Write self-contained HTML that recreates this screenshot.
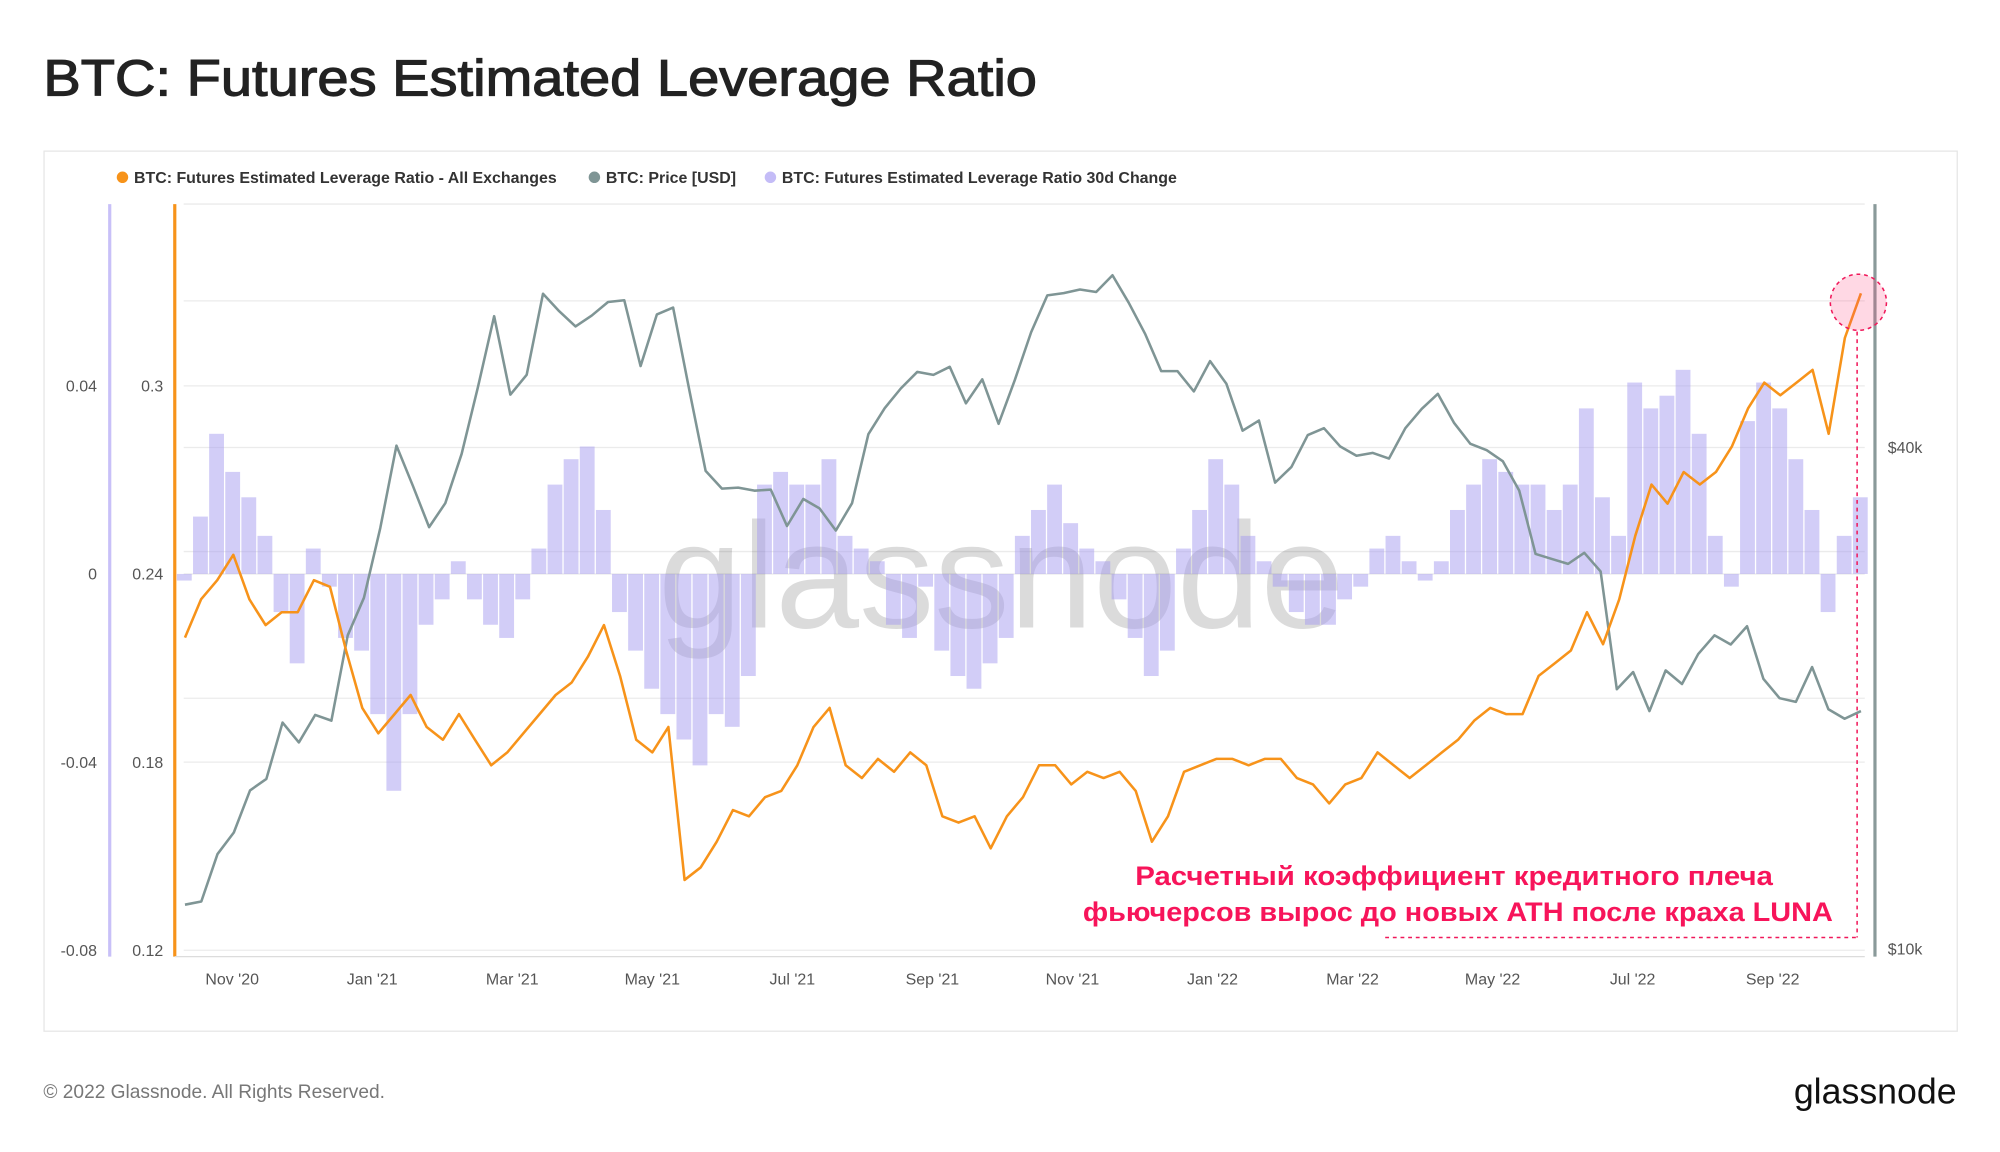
<!DOCTYPE html>
<html><head><meta charset="utf-8">
<style>
html,body{margin:0;padding:0;background:#fff;}
svg{display:block;font-family:"Liberation Sans","DejaVu Sans",sans-serif;}
</style></head>
<body>
<svg id="chart" width="2000" height="1152" viewBox="0 0 1568 903.2" xmlns="http://www.w3.org/2000/svg">
<text x="34" y="75" font-size="40" fill="#222" stroke="#222" stroke-width="0.9" textLength="779" lengthAdjust="spacingAndGlyphs">BTC: Futures Estimated Leverage Ratio</text>
<rect x="34.5" y="118.5" width="1500" height="690" fill="#fff" stroke="#e6e6e6"/>
<g font-size="12.5" fill="#333" font-weight="bold">
 <g><circle cx="96" cy="139" r="4.5" fill="#f7931a"/><text x="105" y="143.5">BTC: Futures Estimated Leverage Ratio - All Exchanges</text></g>
 <g><circle cx="466" cy="139" r="4.5" fill="#7f9595"/><text x="475" y="143.5">BTC: Price [USD]</text></g>
 <g><circle cx="604" cy="139" r="4.5" fill="#c4bcf7"/><text x="613" y="143.5">BTC: Futures Estimated Leverage Ratio 30d Change</text></g>
</g>
<g id="grid"></g>
<text x="785" y="492" font-size="118" fill="#000" fill-opacity="0.14" text-anchor="middle" font-weight="500">glassnode</text>
<g id="bars"></g>
<g id="lines"></g>
<g id="axes"></g>
<g>
 <ellipse cx="1457" cy="237" rx="22" ry="22" fill="#ff3c78" fill-opacity="0.2" stroke="#f0185a" stroke-dasharray="3,3" stroke-width="1.2"/>
 <line x1="1456" y1="260" x2="1456" y2="735" stroke="#f0185a" stroke-dasharray="3,3" stroke-width="1.2"/>
 <line x1="1086" y1="735" x2="1456" y2="735" stroke="#f0185a" stroke-dasharray="3,3" stroke-width="1.2"/>
 <text x="1140" y="694" font-size="21" font-weight="bold" fill="#f7145a" text-anchor="middle" textLength="500" lengthAdjust="spacingAndGlyphs">Расчетный коэффициент кредитного плеча</text>
 <text x="1143" y="722" font-size="21" font-weight="bold" fill="#f7145a" text-anchor="middle" textLength="588" lengthAdjust="spacingAndGlyphs">фьючерсов вырос до новых ATH после краха LUNA</text>
</g>
<text x="34" y="861" font-size="15" fill="#777">© 2022 Glassnode. All Rights Reserved.</text>
<text x="1534" y="865" font-size="28" fill="#111" text-anchor="end">glassnode</text>
</svg>
<script>
const NS='http://www.w3.org/2000/svg';
const leverage=[0.2197,0.2319,0.238,0.2461,0.2319,0.2237,0.2278,0.2278,0.238,0.2359,0.2156,0.1973,0.1892,0.1953,0.2014,0.1912,0.1871,0.1953,0.1871,0.179,0.1831,0.1892,0.1953,0.2014,0.2054,0.2136,0.2237,0.2075,0.1871,0.1831,0.1912,0.1424,0.1464,0.1546,0.1647,0.1627,0.1688,0.1708,0.179,0.1912,0.1973,0.179,0.1749,0.181,0.1769,0.1831,0.179,0.1627,0.1607,0.1627,0.1525,0.1627,0.1688,0.179,0.179,0.1729,0.1769,0.1749,0.1769,0.1708,0.1546,0.1627,0.1769,0.179,0.181,0.181,0.179,0.181,0.181,0.1749,0.1729,0.1668,0.1729,0.1749,0.1831,0.179,0.1749,0.179,0.1831,0.1871,0.1932,0.1973,0.1953,0.1953,0.2075,0.2115,0.2156,0.2278,0.2176,0.2319,0.2522,0.2685,0.2624,0.2725,0.2685,0.2725,0.2807,0.2929,0.301,0.297,0.301,0.3051,0.2847,0.3153,0.3295];
const priceK=[11.3,11.4,13.0,13.8,15.5,16.0,18.7,17.7,19.1,18.8,23.8,26.4,32.0,40.2,36.0,32.1,34.3,39.3,47.2,57.5,46.3,48.9,61.2,58.3,55.9,57.6,59.8,60.1,50.1,57.8,58.9,46.8,37.5,35.7,35.8,35.5,35.6,32.2,34.7,33.8,31.8,34.3,41.5,44.6,47.1,49.3,48.9,50.0,45.2,48.3,42.7,48.2,55.0,60.9,61.3,61.9,61.5,64.4,59.7,54.8,49.4,49.4,46.7,50.8,47.7,41.9,43.1,36.3,37.9,41.4,42.2,40.1,39.1,39.4,38.8,42.2,44.5,46.4,42.8,40.4,39.7,38.5,35.5,29.8,29.4,29.0,29.9,28.4,20.5,21.5,19.3,21.6,20.8,22.6,23.8,23.2,24.4,21.1,20.0,19.8,21.8,19.4,18.9,19.3];
const change30d=[-0.0014,0.0122,0.0298,0.0217,0.0163,0.0081,-0.0081,-0.019,0.0054,-0.0027,-0.0136,-0.0163,-0.0298,-0.0461,-0.0298,-0.0108,-0.0054,0.0027,-0.0054,-0.0108,-0.0136,-0.0054,0.0054,0.019,0.0244,0.0271,0.0136,-0.0081,-0.0163,-0.0244,-0.0298,-0.0352,-0.0407,-0.0298,-0.0325,-0.0217,0.019,0.0217,0.019,0.019,0.0244,0.0081,0.0054,0.0027,-0.0108,-0.0136,-0.0027,-0.0163,-0.0217,-0.0244,-0.019,-0.0136,0.0081,0.0136,0.019,0.0108,0.0054,0.0027,-0.0054,-0.0136,-0.0217,-0.0163,0.0054,0.0136,0.0244,0.019,0.0081,0.0027,-0.0027,-0.0081,-0.0108,-0.0108,-0.0054,-0.0027,0.0054,0.0081,0.0027,-0.0014,0.0027,0.0136,0.019,0.0244,0.0217,0.019,0.019,0.0136,0.019,0.0352,0.0163,0.0081,0.0407,0.0352,0.0379,0.0434,0.0298,0.0081,-0.0027,0.0325,0.0407,0.0352,0.0244,0.0136,-0.0081,0.0081,0.0163];
const xLabels=["Nov '20","Jan '21","Mar '21","May '21","Jul '21","Sep '21","Nov '21","Jan '22","Mar '22","May '22","Jul '22","Sep '22"];
const leverageTicks=[0.3,0.24,0.18,0.12];
const changeTicks=[0.04,0,-0.04,-0.08];
const priceTicks=[40,10];
const priceTickLabels=["$40k","$10k"];
const priceGrid=[60,40,30,20];

const X0=145,X1=1459;
const xAt=(i,n)=>X0+(X1-X0)*i/(n-1);
const yLev=v=>450-(v-0.24)/0.06*147.5;
const yChg=v=>450-v/0.04*147.5;
const yPrice=k=>744-Math.log10(k/10)*653;

function mk(tag,attrs,parent){const e=document.createElementNS(NS,tag);for(const k in attrs)e.setAttribute(k,attrs[k]);parent.appendChild(e);return e;}
const grid=document.getElementById('grid'),bars=document.getElementById('bars'),lines=document.getElementById('lines'),axes=document.getElementById('axes');

const gy=[160].concat(leverageTicks.map(yLev),priceGrid.map(yPrice));
gy.forEach(y=>{const l=mk('line',{x1:144,x2:1462,y1:y,y2:y,stroke:'#ebebeb','stroke-width':1},grid);

});

const nb=change30d.length,bw=(X1-X0)/(nb-1);
change30d.forEach((v,i)=>{const x=xAt(i,nb)-bw/2;const y0=yChg(0),y=yChg(v);
const r=mk('rect',{x:x,y:Math.min(y0,y),width:bw*0.92,height:Math.abs(y-y0),fill:'#a69bf0','fill-opacity':0.5},bars);

});

function path(arr,fy,color,w,name){const n=arr.length;let d='';arr.forEach((v,i)=>{d+=(i?'L':'M')+xAt(i,n).toFixed(1)+','+fy(v).toFixed(1);});
const p=mk('path',{d:d,fill:'none',stroke:color,'stroke-width':w,'stroke-linejoin':'round'},lines);

}
path(priceK,yPrice,'#7f9595',2,'price-line');
path(leverage,yLev,'#f7931a',2,'leverage-line');

[[86,'#c8c0f8'],[137,'#f7931a'],[1470,'#8a9a9a']].forEach(a=>{const l=mk('line',{x1:a[0],x2:a[0],y1:160,y2:750,stroke:a[1],'stroke-width':2.5},axes);

});
const bl=mk('line',{x1:137,x2:1462,y1:750,y2:750,stroke:'#dcdcdc','stroke-width':1},axes);



function txt(s,x,y,anchor){const t=mk('text',{x:x,y:y,'font-size':12.5,fill:'#555','text-anchor':anchor},axes);t.textContent=s;return t;}
leverageTicks.forEach(v=>{const t=txt(String(v),128,yLev(v)+4.5,'end');

});
changeTicks.forEach(v=>{const t=txt(String(v),76,yChg(v)+4.5,'end');

});
priceTicks.forEach((v,i)=>{const t=txt(priceTickLabels[i],1480,yPrice(v)+4.5,'start');

});
xLabels.forEach((s,i)=>{const t=txt(s,182+i*109.8,772,'middle');

});
</script>
</body></html>
